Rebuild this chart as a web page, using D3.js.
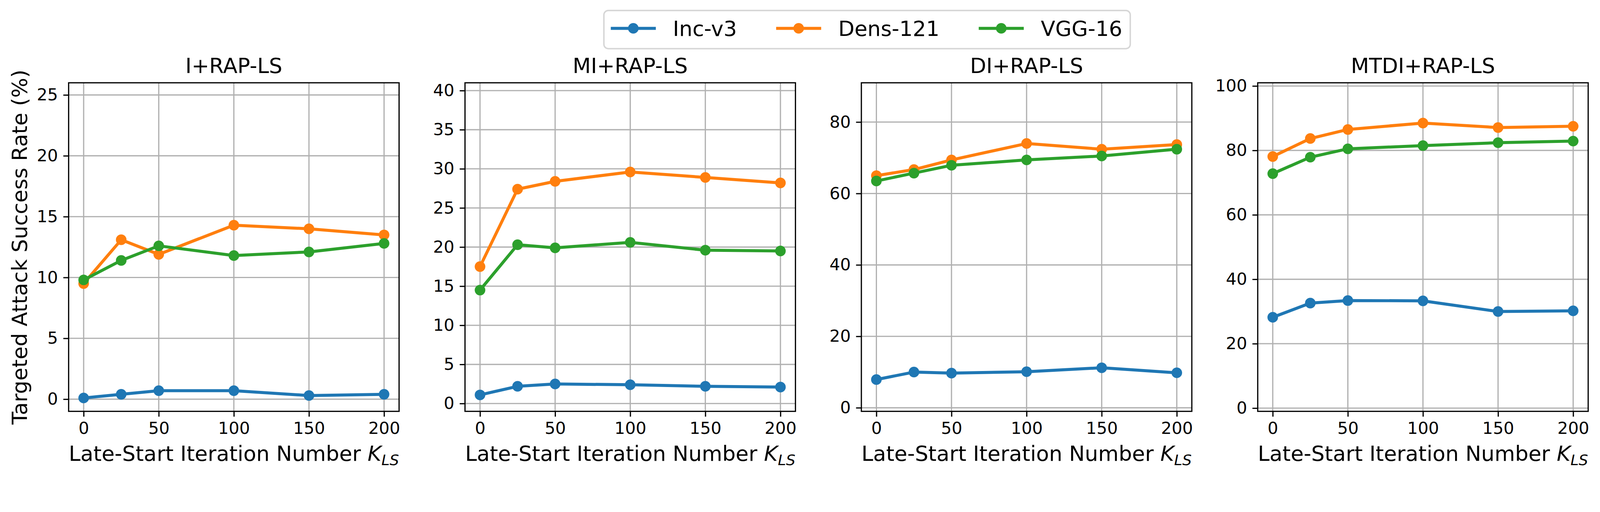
<!DOCTYPE html>
<html>
<head>
<meta charset="utf-8">
<script src="https://cdn.jsdelivr.net/npm/d3@7"></script>
<style>
  html, body { margin: 0; padding: 0; overflow: hidden; background: #fff; }
  #chart { width: 100vw; }
  svg { display: block; }
  text { font-family: "DejaVu Sans", sans-serif; fill: #000; }
</style>
</head>
<body>
<div id="chart"></div>
<script>
// --- data ---
const kValues = [0, 25, 50, 100, 150, 200];
const xTicks = [0, 50, 100, 150, 200];
const modelNames = ["Inc-v3", "Dens-121", "VGG-16"];
const modelColors = ["#1f77b4", "#ff7f0e", "#2ca02c"];
const panelTitles = ["I+RAP-LS", "MI+RAP-LS", "DI+RAP-LS", "MTDI+RAP-LS"];

// rows: Inc-v3, Dens-121, VGG-16
const iRapLS = [
    [0.1, 0.4, 0.7, 0.7, 0.3, 0.4],
    [9.5, 13.1, 11.9, 14.3, 14.0, 13.5],
    [9.8, 11.4, 12.6, 11.8, 12.1, 12.8]
];
const miRapLS = [
    [1.1, 2.2, 2.5, 2.4, 2.2, 2.1],
    [17.5, 27.4, 28.4, 29.6, 28.9, 28.2],
    [14.5, 20.3, 19.9, 20.6, 19.6, 19.5]
];
const diRapLS = [
    [7.9, 10.0, 9.7, 10.1, 11.2, 9.8],
    [65.0, 66.7, 69.4, 74.0, 72.4, 73.7],
    [63.5, 65.7, 67.9, 69.4, 70.5, 72.4]
];
const mtdiRapLS = [
    [28.2, 32.6, 33.4, 33.3, 30.0, 30.2],
    [78.1, 83.7, 86.5, 88.5, 87.1, 87.5],
    [72.8, 77.9, 80.5, 81.5, 82.4, 82.9]
];
const panelValues = [iRapLS, miRapLS, diRapLS, mtdiRapLS];

const yDomains = [[-1, 26], [-1, 41], [-1, 91], [-1, 101]];
const yTickSets = [
    [0, 5, 10, 15, 20, 25],
    [0, 5, 10, 15, 20, 25, 30, 35, 40],
    [0, 20, 40, 60, 80],
    [0, 20, 40, 60, 80, 100]
];

// --- layout (in figure pixels, scaled by the viewBox) ---
const W = 4406, H = 1311;
const panelLeft = [189, 1280.5, 2372, 3463.5];
const panelW = 910;
const plotTop = 228, plotBottom = 1133;
const tickFont = 46, labelFont = 58;
const lw = 8.33, markerR = 14.6, thin = 3.33, tickLen = 14.6;

const svg = d3.select("#chart").append("svg")
    .attr("viewBox", `0 0 ${W} ${H}`)
    .attr("preserveAspectRatio", "xMinYMin meet")
    .attr("width", "100%");
svg.append("rect").attr("width", W).attr("height", H).attr("fill", "#fff");

panelTitles.forEach((title, p) => {
    const x = d3.scaleLinear().domain([-10, 210]).range([panelLeft[p], panelLeft[p] + panelW]);
    const y = d3.scaleLinear().domain(yDomains[p]).range([plotBottom, plotTop]);
    const g = svg.append("g");

    // grid
    g.append("g").selectAll("line").data(xTicks).join("line")
        .attr("x1", d => x(d)).attr("x2", d => x(d))
        .attr("y1", plotTop).attr("y2", plotBottom)
        .attr("stroke", "#b0b0b0").attr("stroke-width", thin);
    g.append("g").selectAll("line").data(yTickSets[p]).join("line")
        .attr("x1", panelLeft[p]).attr("x2", panelLeft[p] + panelW)
        .attr("y1", d => y(d)).attr("y2", d => y(d))
        .attr("stroke", "#b0b0b0").attr("stroke-width", thin);

    // series
    const line = d3.line().x((d, i) => x(kValues[i])).y(d => y(d));
    panelValues[p].forEach((vals, s) => {
        const sg = g.append("g");
        sg.append("path").attr("d", line(vals))
            .attr("fill", "none").attr("stroke", modelColors[s])
            .attr("stroke-width", lw).attr("stroke-linejoin", "round").attr("stroke-linecap", "square");
        sg.selectAll("circle").data(vals).join("circle")
            .attr("cx", (d, i) => x(kValues[i])).attr("cy", d => y(d))
            .attr("r", markerR).attr("fill", modelColors[s]);
    });

    // frame
    g.append("rect")
        .attr("x", panelLeft[p]).attr("y", plotTop)
        .attr("width", panelW).attr("height", plotBottom - plotTop)
        .attr("fill", "none").attr("stroke", "#000").attr("stroke-width", thin);

    // axes
    const xAxis = g.append("g").attr("transform", `translate(0,${plotBottom})`)
        .call(d3.axisBottom(x).tickValues(xTicks).tickSize(tickLen).tickPadding(tickLen).tickFormat(d3.format("d")));
    const yAxis = g.append("g").attr("transform", `translate(${panelLeft[p]},0)`)
        .call(d3.axisLeft(y).tickValues(yTickSets[p]).tickSize(tickLen).tickPadding(tickLen).tickFormat(d3.format("d")));
    [xAxis, yAxis].forEach(a => {
        a.select(".domain").remove();
        a.selectAll(".tick line").attr("stroke", "#000").attr("stroke-width", thin);
        a.selectAll(".tick text").attr("font-size", tickFont)
            .attr("font-family", "DejaVu Sans").attr("fill", "#000");
    });

    // title
    g.append("text")
        .attr("x", panelLeft[p] + panelW / 2).attr("y", plotTop - 27)
        .attr("text-anchor", "middle").attr("font-size", labelFont)
        .text(title);

    // x label with math K_LS
    const xl = g.append("text")
        .attr("x", panelLeft[p] + panelW / 2).attr("y", 1269)
        .attr("text-anchor", "middle").attr("font-size", labelFont);
    xl.append("tspan").text("Late-Start Iteration Number ");
    xl.append("tspan").attr("font-style", "italic").text("K");
    xl.append("tspan").attr("font-style", "italic").attr("font-size", labelFont * 0.7)
        .attr("dy", 12).text("LS");

    if (p === 0) {
        g.append("text")
            .attr("transform", `translate(74,${(plotTop + plotBottom) / 2}) rotate(-90)`)
            .attr("text-anchor", "middle").attr("font-size", labelFont)
            .text("Targeted Attack Success Rate (%)");
    }
});

// --- legend ---
const legend = svg.append("g");
const frame = legend.append("rect")
    .attr("y", 29).attr("height", 105).attr("rx", 12)
    .attr("fill", "#fff").attr("fill-opacity", 0.8)
    .attr("stroke", "#cccccc").attr("stroke-opacity", 0.8).attr("stroke-width", 4);
let lx = 1682;
const ly = 78;
modelNames.forEach((name, s) => {
    legend.append("line")
        .attr("x1", lx).attr("x2", lx + 124).attr("y1", ly).attr("y2", ly)
        .attr("stroke", modelColors[s]).attr("stroke-width", lw);
    legend.append("circle").attr("cx", lx + 62).attr("cy", ly).attr("r", markerR)
        .attr("fill", modelColors[s]);
    const t = legend.append("text")
        .attr("x", lx + 171).attr("y", ly + 21)
        .attr("font-size", labelFont).text(name);
    lx = lx + 171 + t.node().getComputedTextLength() + 108;
});
frame.attr("x", 1663).attr("width", (lx - 108 + 22) - 1663);
</script>
</body>
</html>
